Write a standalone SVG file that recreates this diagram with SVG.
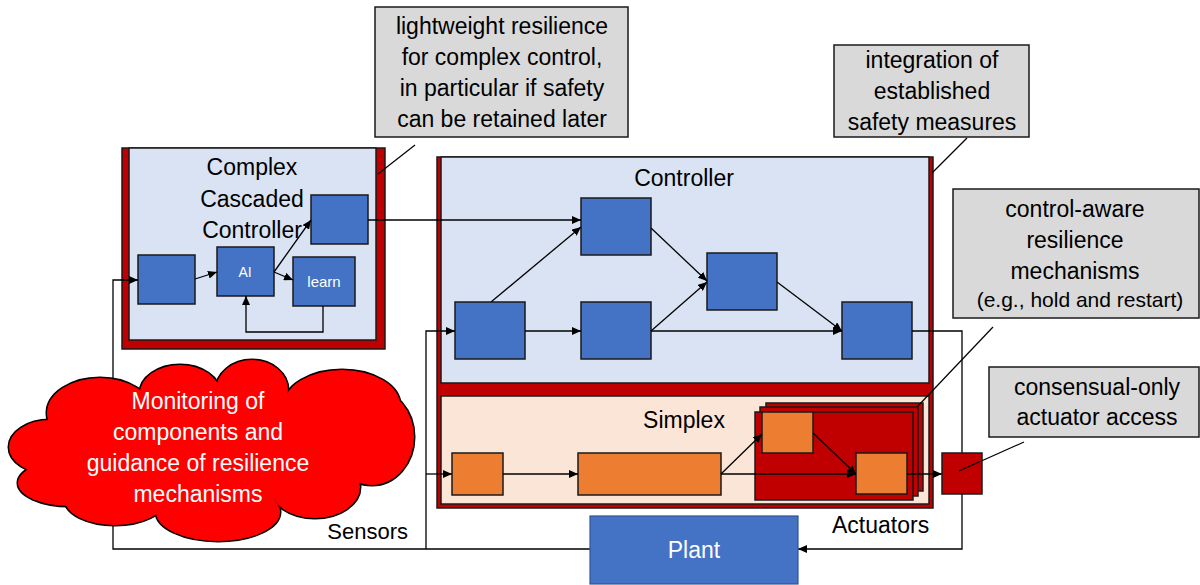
<svg xmlns="http://www.w3.org/2000/svg" width="1200" height="585" viewBox="0 0 1200 585">
<defs>
<marker id="ah" markerUnits="userSpaceOnUse" markerWidth="10" markerHeight="8" refX="9" refY="4" orient="auto">
<path d="M0,0 L9,4 L0,8 z" fill="#000"/>
</marker>
<style>
text{font-family:"Liberation Sans",Arial,sans-serif;font-size:23px;fill:#000}
.t{text-anchor:middle}
.w{fill:#fff}
.red{fill:#C00000;stroke:#1a1a1a;stroke-width:1.5}
.lb{fill:#DAE3F3;stroke:#1a1a1a;stroke-width:1.5}
.pe{fill:#FBE5D6;stroke:#1a1a1a;stroke-width:1.5}
.bl{fill:#4472C4;stroke:#1a1a1a;stroke-width:1.5}
.or{fill:#ED7D31;stroke:#1a1a1a;stroke-width:1.5}
.co{fill:#D9D9D9;stroke:#1a1a1a;stroke-width:1.5}
.c{fill:none;stroke:#000;stroke-width:1.3}
.a{marker-end:url(#ah)}
.ld{fill:none;stroke:#000;stroke-width:1.2}
.cs{fill:none;stroke:#000;stroke-width:3}
.cf{fill:#FF0000;stroke:none}
</style>
</defs>

<g id="complex-controller">
<rect class="red" x="122" y="148" width="263" height="201"/>
<rect class="lb" x="129" y="148" width="247" height="192"/>
<text class="t" x="252" y="175">Complex</text>
<text class="t" x="252" y="207">Cascaded</text>
<text class="t" x="252" y="238">Controller</text>
</g>

<g id="controller-frame">
<rect class="red" x="437" y="157" width="496" height="351"/>
<rect class="lb" x="441" y="157" width="488" height="226"/>
<text class="t" x="684" y="186">Controller</text>
</g>

<g id="simplex">
<rect class="pe" x="441" y="396" width="488" height="108"/>
<text class="t" x="684" y="428">Simplex</text>
</g>

<g id="stack">
<rect class="red" x="766" y="403" width="157" height="88"/>
<rect class="red" x="760" y="407" width="158" height="89"/>
<rect class="red" x="755" y="412" width="158" height="88"/>
</g>

<g id="cc-box1"><rect class="bl" x="138" y="255" width="57" height="49"/></g>
<g id="cc-ai"><rect class="bl" x="217" y="247" width="57" height="49"/><text class="t w" x="245" y="277" style="font-size:14px">AI</text></g>
<g id="cc-learn"><rect class="bl" x="293" y="257" width="62" height="49"/><text class="t w" x="324" y="287" style="font-size:15px">learn</text></g>
<g id="cc-top"><rect class="bl" x="311" y="195" width="57" height="49"/></g>

<g id="ctl-a"><rect class="bl" x="455" y="302" width="70" height="57"/></g>
<g id="ctl-b"><rect class="bl" x="581" y="198" width="70" height="57"/></g>
<g id="ctl-c"><rect class="bl" x="581" y="302" width="70" height="57"/></g>
<g id="ctl-d"><rect class="bl" x="707" y="253" width="70" height="57"/></g>
<g id="ctl-e"><rect class="bl" x="842" y="302" width="70" height="57"/></g>

<g id="sx-1"><rect class="or" x="452" y="453" width="51" height="42"/></g>
<g id="sx-2"><rect class="or" x="578" y="453" width="143" height="42"/></g>
<g id="sx-3"><rect class="or" x="762" y="412" width="51" height="41"/></g>
<g id="sx-4"><rect class="or" x="856" y="453" width="51" height="41"/></g>

<g id="connectors">
<path class="c a" d="M590,549 H113 V280 H138"/>
<path class="c a" d="M426,549 V331 H455"/>
<path class="c a" d="M426,474 H452"/>
<path class="c a" d="M195,279 L217,272"/>
<path class="c a" d="M274,272 L311,220"/>
<path class="c a" d="M274,272 L293,280"/>
<path class="c a" d="M323,306 V332 H246 V296"/>
<path class="c a" d="M368,220 H581"/>
<path class="c a" d="M491,302 L581,227"/>
<path class="c a" d="M525,331 H581"/>
<path class="c a" d="M651,228 L707,281"/>
<path class="c a" d="M651,331 L707,282"/>
<path class="c a" d="M651,331 H842"/>
<path class="c a" d="M777,282 L842,331"/>
<path class="c a" d="M912,331 H962 V549 H798"/>
<path class="c a" d="M503,474 H578"/>
<path class="c a" d="M721,474 L762,434"/>
<path class="c a" d="M721,474 H856"/>
<path class="c a" d="M813,433 L856,474"/>
<path class="c a" d="M907,474 H942"/>
</g>

<g id="actuator-access"><rect class="red" x="942" y="453" width="40" height="41"/></g>

<g id="plant">
<rect x="590" y="516" width="208" height="68" fill="#4472C4" stroke="#2F5597" stroke-width="1.2"/>
<text class="t w" x="694" y="558">Plant</text>
</g>

<g id="labels">
<text x="408" y="539" style="text-anchor:end;font-size:22px">Sensors</text>
<text x="832" y="533">Actuators</text>
</g>

<g id="cloud">
<g class="cs">
<ellipse cx="50" cy="447" rx="41" ry="27"/>
<ellipse cx="70" cy="483" rx="52" ry="23"/>
<ellipse cx="115" cy="500" rx="50" ry="25"/>
<ellipse cx="218" cy="512" rx="62" ry="29"/>
<ellipse cx="315" cy="487" rx="45" ry="31"/>
<ellipse cx="372" cy="437" rx="42" ry="48"/>
<ellipse cx="342" cy="405" rx="58" ry="35"/>
<ellipse cx="252" cy="390" rx="36" ry="30"/>
<ellipse cx="180" cy="393" rx="40" ry="28"/>
<ellipse cx="100" cy="413" rx="53" ry="35"/>
</g>
<g class="cf">
<ellipse cx="50" cy="447" rx="41" ry="27"/>
<ellipse cx="70" cy="483" rx="52" ry="23"/>
<ellipse cx="115" cy="500" rx="50" ry="25"/>
<ellipse cx="218" cy="512" rx="62" ry="29"/>
<ellipse cx="315" cy="487" rx="45" ry="31"/>
<ellipse cx="372" cy="437" rx="42" ry="48"/>
<ellipse cx="342" cy="405" rx="58" ry="35"/>
<ellipse cx="252" cy="390" rx="36" ry="30"/>
<ellipse cx="180" cy="393" rx="40" ry="28"/>
<ellipse cx="100" cy="413" rx="53" ry="35"/>
<ellipse cx="215" cy="450" rx="150" ry="55"/>
</g>
<text class="t w" x="198" y="409">Monitoring of</text>
<text class="t w" x="198" y="440">components and</text>
<text class="t w" x="198" y="471">guidance of resilience</text>
<text class="t w" x="198" y="502">mechanisms</text>
</g>

<g id="callout-lightweight">
<rect class="co" x="375" y="7" width="253" height="130"/>
<text class="t" x="502" y="34">lightweight resilience</text>
<text class="t" x="502" y="65">for complex control,</text>
<text class="t" x="502" y="96">in particular if safety</text>
<text class="t" x="502" y="127">can be retained later</text>
<line class="ld" x1="415" y1="145" x2="378" y2="174"/>
</g>

<g id="callout-integration">
<rect class="co" x="834" y="45" width="195" height="92"/>
<text class="t" x="932" y="68">integration of</text>
<text class="t" x="932" y="99">established</text>
<text class="t" x="932" y="130">safety measures</text>
<line class="ld" x1="967" y1="138" x2="932" y2="173"/>
</g>

<g id="callout-control-aware">
<rect class="co" x="953" y="189" width="246" height="129"/>
<text class="t" x="1075" y="217">control-aware</text>
<text class="t" x="1075" y="248">resilience</text>
<text class="t" x="1075" y="279">mechanisms</text>
<text class="t" x="1080" y="307" style="font-size:21px">(e.g., hold and restart)</text>
<line class="ld" x1="993" y1="327" x2="917" y2="407"/>
</g>

<g id="callout-consensual">
<rect class="co" x="989" y="367" width="210" height="70"/>
<text class="t" x="1097" y="395">consensual-only</text>
<text class="t" x="1097" y="425">actuator access</text>
<line class="ld" x1="1024" y1="442" x2="959" y2="471"/>
</g>
</svg>
